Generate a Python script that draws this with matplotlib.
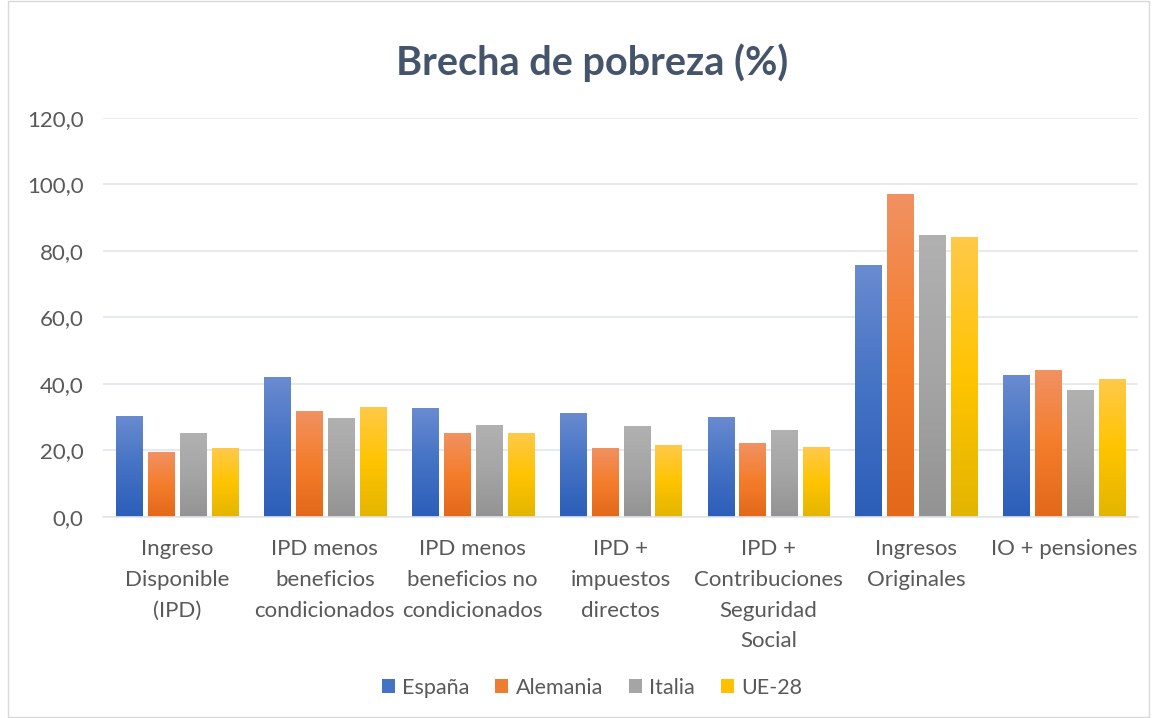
import numpy as np
import matplotlib
matplotlib.use("Agg")
import matplotlib.pyplot as plt
from matplotlib.colors import LinearSegmentedColormap
from matplotlib.patches import Rectangle, Patch

plt.rcParams['font.family'] = ['Lato', 'DejaVu Sans']

# data
categories = ["Ingreso\nDisponible\n(IPD)",
              "IPD menos\nbeneficios\ncondicionados",
              "IPD menos\nbeneficios no\ncondicionados",
              "IPD +\nimpuestos\ndirectos",
              "IPD +\nContribuciones\nSeguridad\nSocial",
              "Ingresos\nOriginales",
              "IO + pensiones"]
series = ["España", "Alemania", "Italia", "UE-28"]
espana = [30.4, 42.1, 32.8, 31.3, 30.1, 75.9, 42.7]
alemania = [19.5, 31.9, 25.2, 20.7, 22.2, 97.0, 44.2]
italia = [25.2, 29.7, 27.6, 27.3, 26.1, 84.9, 38.2]
ue28 = [20.7, 33.1, 25.2, 21.6, 21.0, 84.3, 41.5]
yticks = [0, 20, 40, 60, 80, 100, 120]

# gradient stops per series: bottom, middle, top
gradients = [
    ["#2C5EB9", "#4472C4", "#6A8BD0"],
    ["#E3681A", "#F47D2B", "#F19162"],
    ["#939393", "#A5A5A5", "#B1B1B1"],
    ["#E3B500", "#FFC400", "#FFC94A"],
]
solid = ["#4472C4", "#ED7D31", "#A5A5A5", "#FFC000"]
text_col = "#595959"

fig = plt.figure(figsize=(11.52, 7.18), dpi=100)
ax = fig.add_axes([0.0894, 0.280, 0.8986, 0.5557])

x = np.arange(len(categories))
step = 0.216
width = 0.176
vals = [espana, alemania, italia, ue28]
grad = np.linspace(0, 1, 256).reshape(-1, 1)

for i, v in enumerate(vals):
    cmap = LinearSegmentedColormap.from_list("g%d" % i, gradients[i])
    offs = (i - 1.5) * step
    bars = ax.bar(x + offs, v, width, color="none", edgecolor="none", zorder=2)
    for b in bars:
        x0 = b.get_x()
        h = b.get_height()
        im = ax.imshow(grad, cmap=cmap, origin="lower", aspect="auto",
                       extent=[x0, x0 + width, 0, h], zorder=2)
        im.set_clip_path(b)

ax.set_xlim(-0.5, len(categories) - 0.5)
ax.set_ylim(0, 120)
ax.set_yticks(yticks)
ax.yaxis.set_major_formatter(plt.FuncFormatter(lambda v, p: ("%.1f" % v).replace(".", ",")))
ax.set_xticks(x)
ax.set_xticklabels(categories, linespacing=1.67)
ax.tick_params(axis="both", length=0, labelcolor=text_col)
ax.tick_params(axis="x", pad=16, labelsize=16)
ax.tick_params(axis="y", pad=14, labelsize=16)
ax.grid(axis="y", color="#E1E5EA", linewidth=1.2, zorder=0)
ax.set_axisbelow(True)
for s in ["top", "right", "left"]:
    ax.spines[s].set_visible(False)
ax.spines["bottom"].set_color("#E1E5EA")
ax.spines["bottom"].set_linewidth(1.2)

fig.text(0.514, 0.913, "Brecha de pobreza (%)", ha="center", va="center",
         fontsize=28.5, fontweight="bold", color="#44546A")

handles = [Patch(facecolor=c, edgecolor="none") for c in solid]
fig.legend(handles, series, loc="center", bbox_to_anchor=(0.514, 0.042),
           ncol=4, frameon=False, fontsize=15.5, labelcolor=text_col,
           handlelength=0.6, handleheight=0.6, handletextpad=0.35,
           columnspacing=1.2)

fig.patches.append(Rectangle((0.007, 0.002), 0.99, 0.996, transform=fig.transFigure,
                             fill=False, edgecolor="#D9D9D9", linewidth=1))

fig.savefig("out.png", dpi=100)
